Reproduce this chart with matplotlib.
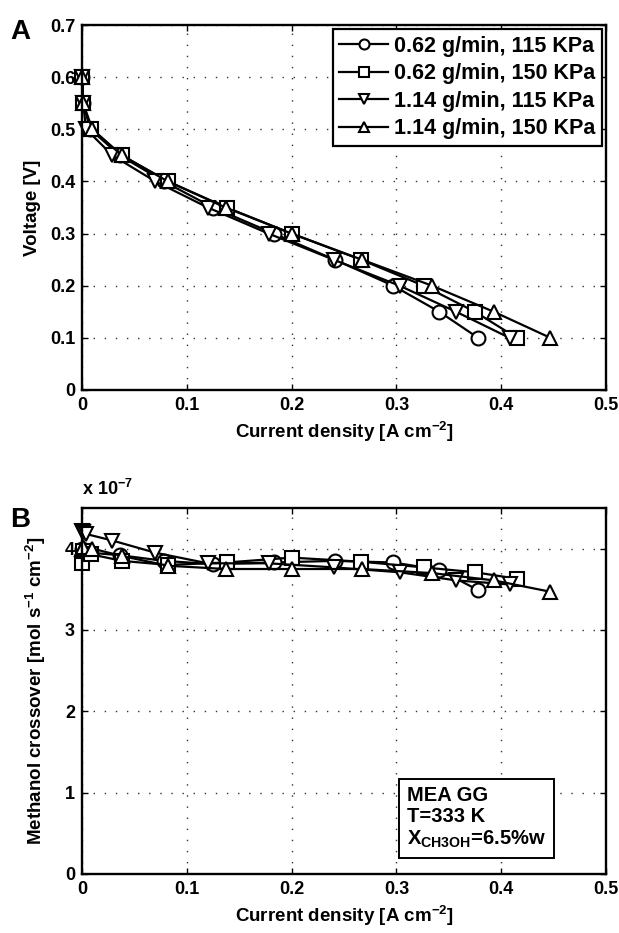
import matplotlib
matplotlib.use("Agg")
import matplotlib.pyplot as plt

plt.rcParams['font.family'] = ['Liberation Sans', 'DejaVu Sans']
plt.rcParams['font.weight'] = 'bold'
plt.rcParams['mathtext.fontset'] = 'custom'
plt.rcParams['mathtext.rm'] = 'Liberation Sans:bold'
plt.rcParams['mathtext.it'] = 'Liberation Sans:bold'
plt.rcParams['mathtext.bf'] = 'Liberation Sans:bold'
plt.rcParams['mathtext.default'] = 'rm'

# ---- data ----
labels = ['0.62 g/min, 115 KPa', '0.62 g/min, 150 KPa',
          '1.14 g/min, 115 KPa', '1.14 g/min, 150 KPa']
markers = ['o', 's', 'v', '^']

voltage = [0.60, 0.55, 0.50, 0.45, 0.40, 0.35, 0.30, 0.25, 0.20, 0.15, 0.10]

j_c1 = [0, 0.001, 0.008, 0.036, 0.078, 0.125, 0.183, 0.241, 0.297, 0.341, 0.378]
j_c2 = [0, 0.001, 0.009, 0.038, 0.082, 0.138, 0.200, 0.266, 0.326, 0.375, 0.415]
j_c3 = [0, 0.001, 0.004, 0.029, 0.070, 0.120, 0.178, 0.240, 0.303, 0.357, 0.408]
j_c4 = [0, 0.001, 0.010, 0.038, 0.082, 0.137, 0.200, 0.267, 0.334, 0.393, 0.447]

# methanol crossover, units of 1e-7 mol s^-1 cm^-2
m_c1 = [4.00, 3.98, 3.95, 3.92, 3.85, 3.81, 3.83, 3.85, 3.83, 3.74, 3.49]
m_c2 = [3.82, 3.97, 3.93, 3.85, 3.80, 3.83, 3.89, 3.84, 3.77, 3.71, 3.63]
m_c3 = [4.22, 4.21, 4.18, 4.10, 3.95, 3.82, 3.82, 3.77, 3.71, 3.61, 3.56]
m_c4 = [4.00, 4.02, 4.00, 3.91, 3.79, 3.75, 3.75, 3.75, 3.70, 3.61, 3.47]

j_all = [j_c1, j_c2, j_c3, j_c4]
m_all = [m_c1, m_c2, m_c3, m_c4]

x_ticks = [0, 0.1, 0.2, 0.3, 0.4, 0.5]
y_ticks_a = [0, 0.1, 0.2, 0.3, 0.4, 0.5, 0.6, 0.7]
y_ticks_b = [0, 1, 2, 3, 4]

fig = plt.figure(figsize=(6.19, 9.33), dpi=100)
axA = fig.add_axes([82/619, 1-390/933, 524/619, 365/933])
axB = fig.add_axes([82/619, 1-874/933, 524/619, 366/933])

def style(ax):
    ax.grid(True, color='#333333', linestyle=(0, (1, 7)), linewidth=1.0)
    ax.tick_params(direction='in', top=True, right=True, length=4, width=1.0,
                   labelsize=13, pad=5)
    for s in ax.spines.values():
        s.set_linewidth(1.7)
    for lab in ax.get_xticklabels() + ax.get_yticklabels():
        lab.set_fontweight('bold')

for j, mk, lab in zip(j_all, markers, labels):
    axA.plot(j, voltage, color='black', lw=1.6, marker=mk, ms=10,
             mfc='white', mec='black', mew=1.5, label=lab, clip_on=False)
axA.set_xlim(0, 0.5)
axA.set_ylim(0, 0.7)
axA.set_xticks(x_ticks)
axA.set_yticks(y_ticks_a)
axA.set_xticklabels(['0', '0.1', '0.2', '0.3', '0.4', '0.5'])
axA.set_yticklabels(['0', '0.1', '0.2', '0.3', '0.4', '0.5', '0.6', '0.7'])
style(axA)
axA.set_xlabel('Current density [A cm$^{-2}$]', fontsize=13.5, fontweight='bold', labelpad=4)
axA.set_ylabel('Voltage [V]', fontsize=13.5, fontweight='bold', labelpad=6)
leg = axA.legend(loc='upper right', fontsize=15.5, handlelength=2.3,
                 borderaxespad=0.2, fancybox=False, framealpha=1,
                 edgecolor='black', handletextpad=0.25, labelspacing=0.3,
                 borderpad=0.3, markerscale=0.72)
leg.get_frame().set_linewidth(1.6)
for t in leg.get_texts():
    t.set_fontweight('bold')

for j, m, mk in zip(j_all, m_all, markers):
    axB.plot(j, m, color='black', lw=1.6, marker=mk, ms=10,
             mfc='white', mec='black', mew=1.5, clip_on=False)
axB.set_xlim(0, 0.5)
axB.set_ylim(0, 4.5)
axB.set_xticks(x_ticks)
axB.set_yticks(y_ticks_b)
axB.set_xticklabels(['0', '0.1', '0.2', '0.3', '0.4', '0.5'])
axB.set_yticklabels(['0', '1', '2', '3', '4'])
style(axB)
axB.set_xlabel('Current density [A cm$^{-2}$]', fontsize=13.5, fontweight='bold', labelpad=4)
axB.set_ylabel('Methanol crossover [mol s$^{-1}$ cm$^{-2}$]', fontsize=13.5,
               fontweight='bold', labelpad=12)
axB.text(0.0, 1.025, 'x 10$^{-7}$', transform=axB.transAxes, fontsize=13,
         fontweight='bold', ha='left', va='bottom')
axB.text(0.31, 0.3, 'MEA GG\nT=333 K\nX$_{\\mathrm{CH3OH}}$=6.5%w',
         fontsize=14.5, fontweight='bold', ha='left', va='bottom', linespacing=1.15,
         bbox=dict(boxstyle='square,pad=0.4', fc='white', ec='black', lw=1.4))

fig.text(10/619, 1-32/933, 'A', fontsize=20, fontweight='bold', va='center')
fig.text(10/619, 1-520/933, 'B', fontsize=20, fontweight='bold', va='center')

fig.savefig('out.png', dpi=100)
